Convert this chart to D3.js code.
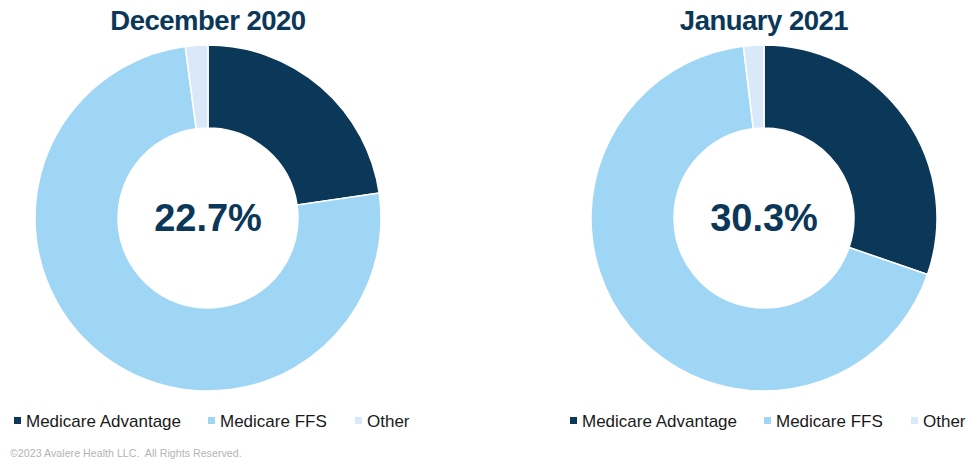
<!DOCTYPE html>
<html>
<head>
<meta charset="utf-8">
<script src="https://cdn.jsdelivr.net/npm/d3@7"></script>
<style>
  body { margin: 0; background: #ffffff; }
  text { font-family: "Liberation Sans", Arial, sans-serif; }
</style>
</head>
<body>
<div id="vis"></div>
<script>
// data
var categories = ["Medicare Advantage", "Medicare FFS", "Other"];
var periods = ["December 2020", "January 2021"];
var dec2020 = [22.7, 75.2, 2.1];
var jan2021 = [30.3, 67.8, 1.9];
var centerLabels = ["22.7%", "30.3%"];

var w = 980;
var h = 466;
var navy = "#0b3758";

var chart = d3.select("#vis")
              .append("svg")
              .attr("width", w)
              .attr("height", h)
              .style("background-color", "#ffffff")

const colScale = d3.scaleOrdinal()
                   .domain(categories)
                   .range(["#0b3758", "#9fd5f5", "#dae9fa"])

const pie = d3.pie().sort(null).value(d => d.v)
const arc = d3.arc().innerRadius(90).outerRadius(173)

var panels = [
  {title: periods[0], values: dec2020, label: centerLabels[0], cx: 208, lx: 14},
  {title: periods[1], values: jan2021, label: centerLabels[1], cx: 764, lx: 570}
];

// legend item offsets from the legend start
var legendOffsets = [0, 194, 341];

panels.forEach(function(p) {
  var g = chart.append("g")
               .attr("transform", `translate(${p.cx},218)`)

  var rows = categories.map((c, i) => ({cat: c, v: p.values[i]}))

  g.selectAll("path")
   .data(pie(rows))
   .enter()
   .append("path")
   .attr("d", arc)
   .attr("fill", d => colScale(d.data.cat))
   .attr("stroke", "#ffffff")
   .attr("stroke-width", 1.5)

  g.append("text")
   .attr("text-anchor", "middle")
   .attr("y", 13)
   .attr("font-size", 38)
   .attr("font-weight", "bold")
   .attr("fill", navy)
   .text(p.label)

  chart.append("text")
       .attr("x", p.cx)
       .attr("y", 30)
       .attr("text-anchor", "middle")
       .attr("font-size", 27.5)
       .attr("font-weight", "bold")
       .attr("fill", navy)
       .attr("letter-spacing", -0.5)
       .text(p.title)

  var leg = chart.append("g")
                 .attr("transform", `translate(${p.lx},0)`)
  var items = leg.selectAll("g")
                 .data(categories)
                 .enter()
                 .append("g")
                 .attr("transform", (d, i) => `translate(${legendOffsets[i]},0)`)
  items.append("rect")
       .attr("x", 0)
       .attr("y", 417)
       .attr("width", 7)
       .attr("height", 7)
       .attr("fill", d => colScale(d))
  items.append("text")
       .attr("x", 12)
       .attr("y", 427)
       .attr("font-size", 17)
       .attr("fill", "#1a1a1a")
       .text(d => d)
})

chart.append("text")
     .attr("x", 10)
     .attr("y", 457)
     .attr("font-size", 10.7)
     .attr("fill", "#b4b4b4")
     .text("\u00a92023 Avalere Health LLC.  All Rights Reserved.")
     .style("white-space", "pre")
</script>
</body>
</html>
